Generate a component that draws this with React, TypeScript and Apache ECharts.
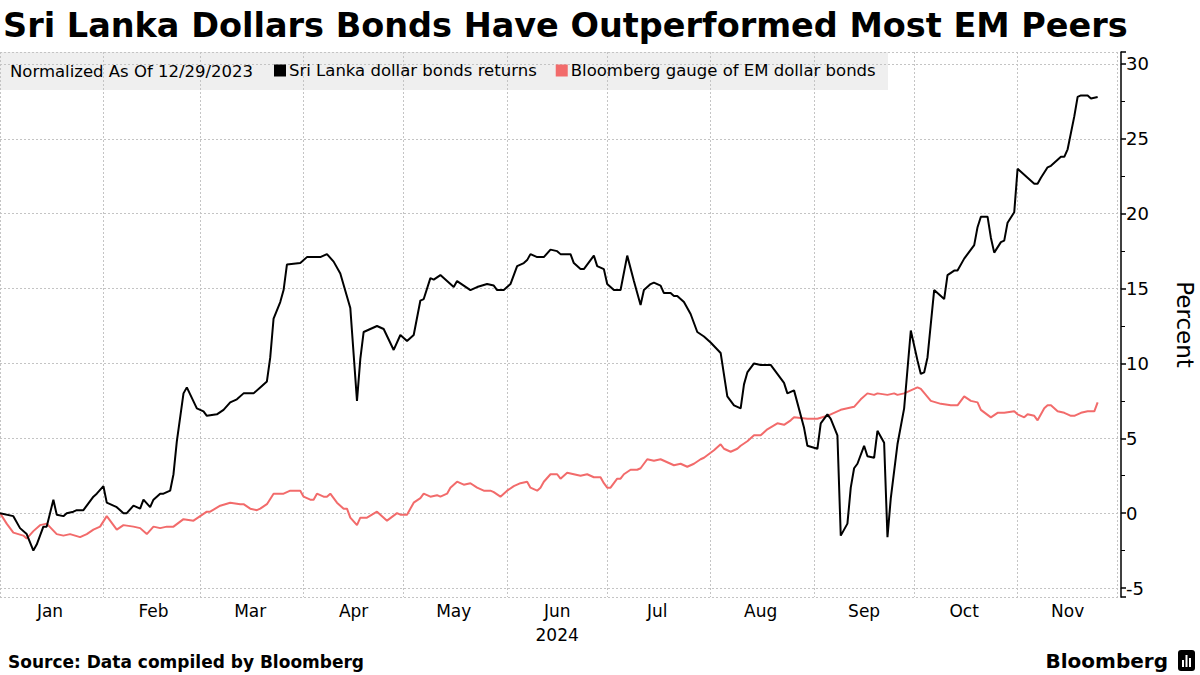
import React, { useEffect, useRef } from "react";
import * as echarts from "echarts";

const TITLE = "Sri Lanka Dollars Bonds Have Outperformed Most EM Peers";
const NOTE = "Normalized As Of 12/29/2023";
const SOURCE = "Source: Data compiled by Bloomberg";
const BRAND = "Bloomberg";
const Y_NAME = "Percent";
const YEAR = "2024";
const SERIES_NAMES = ["Sri Lanka dollar bonds returns", "Bloomberg gauge of EM dollar bonds"];
const SERIES_COLORS = ["#000000", "#f26b6b"];
const MONTHS = ["Jan", "Feb", "Mar", "Apr", "May", "Jun", "Jul", "Aug", "Sep", "Oct", "Nov", "Dec"];

// Sri Lanka dollar bonds returns, % (date MM-DD in 2024, value)
const sriLanka: [string, number][] = [
  ["01-01", 0], ["01-05", -0.2], ["01-07", -1.0], ["01-09", -1.4], ["01-11", -2.5], ["01-12", -2.1],
  ["01-14", -0.9], ["01-15", -0.9], ["01-17", 0.9], ["01-18", -0.1], ["01-20", -0.2], ["01-21", 0.0],
  ["01-23", 0.1], ["01-24", 0.2], ["01-26", 0.2], ["01-29", 1.1], ["01-30", 1.3], ["02-01", 1.8],
  ["02-02", 0.7], ["02-05", 0.4], ["02-07", 0.0], ["02-08", 0.0], ["02-10", 0.5], ["02-12", 0.3],
  ["02-13", 0.9], ["02-15", 0.4], ["02-16", 0.9], ["02-18", 1.3], ["02-19", 1.3], ["02-21", 1.5],
  ["02-22", 2.6], ["02-23", 4.8], ["02-25", 8.0], ["02-26", 8.4], ["02-29", 7.0], ["03-02", 6.8],
  ["03-03", 6.5], ["03-06", 6.6], ["03-08", 6.9], ["03-10", 7.4], ["03-12", 7.6], ["03-14", 8.0],
  ["03-17", 8.0], ["03-19", 8.4], ["03-21", 8.8], ["03-22", 10.4], ["03-23", 13.0], ["03-25", 14.1],
  ["03-26", 14.9], ["03-27", 16.6], ["03-31", 16.7], ["04-02", 17.1], ["04-06", 17.1], ["04-08", 17.3],
  ["04-10", 16.8], ["04-12", 16.0], ["04-15", 13.7], ["04-17", 7.5], ["04-18", 10.3], ["04-19", 12.1],
  ["04-21", 12.3], ["04-23", 12.5], ["04-25", 12.3], ["04-28", 10.9], ["04-30", 11.9], ["05-02", 11.5],
  ["05-04", 11.9], ["05-06", 14.2], ["05-07", 14.3], ["05-09", 15.7], ["05-10", 15.6], ["05-12", 15.9],
  ["05-15", 15.3], ["05-16", 15.1], ["05-17", 15.5], ["05-21", 14.9], ["05-23", 15.1], ["05-26", 15.3],
  ["05-28", 15.2], ["05-29", 14.9], ["05-31", 14.9], ["06-02", 15.3], ["06-04", 16.5], ["06-06", 16.7],
  ["06-07", 16.9], ["06-08", 17.3], ["06-10", 17.1], ["06-12", 17.1], ["06-14", 17.6], ["06-16", 17.5],
  ["06-17", 17.3], ["06-20", 17.3], ["06-21", 16.7], ["06-23", 16.3], ["06-24", 16.3], ["06-26", 16.9],
  ["06-27", 17.2], ["06-28", 16.5], ["06-30", 16.3], ["07-01", 15.3], ["07-03", 14.9], ["07-05", 14.9],
  ["07-07", 17.2], ["07-09", 15.5], ["07-11", 13.9], ["07-12", 14.9], ["07-14", 15.3], ["07-15", 15.4],
  ["07-17", 15.2], ["07-18", 14.7], ["07-20", 14.7], ["07-21", 14.5], ["07-22", 14.5], ["07-24", 14.1],
  ["07-26", 13.3], ["07-28", 12.1], ["07-30", 11.8], ["08-01", 11.4], ["08-04", 10.7], ["08-06", 7.8],
  ["08-08", 7.2], ["08-10", 7.0], ["08-11", 8.6], ["08-12", 9.4], ["08-14", 10.0], ["08-16", 9.9],
  ["08-19", 9.9], ["08-20", 9.6], ["08-23", 8.7], ["08-24", 8.0], ["08-26", 8.2], ["08-29", 5.7],
  ["08-30", 4.5], ["09-02", 4.3], ["09-03", 6.0], ["09-05", 6.6], ["09-06", 6.3], ["09-08", 5.2],
  ["09-09", -1.5], ["09-11", -0.7], ["09-12", 1.7], ["09-13", 3.0], ["09-14", 3.3], ["09-16", 4.5],
  ["09-17", 3.8], ["09-19", 3.7], ["09-20", 5.5], ["09-22", 4.7], ["09-23", -1.6], ["09-24", 1.0],
  ["09-26", 4.6], ["09-28", 7.0], ["09-30", 12.2], ["10-02", 10.2], ["10-03", 9.3], ["10-04", 9.4],
  ["10-05", 10.4], ["10-07", 14.9], ["10-10", 14.3], ["10-11", 15.9], ["10-13", 16.2], ["10-14", 16.2],
  ["10-16", 17.0], ["10-17", 17.3], ["10-19", 17.9], ["10-20", 19.1], ["10-21", 19.8], ["10-23", 19.8],
  ["10-24", 18.4], ["10-25", 17.4], ["10-27", 18.1], ["10-28", 18.2], ["10-29", 19.4], ["10-31", 20.1],
  ["11-01", 23.0], ["11-03", 22.6], ["11-04", 22.4], ["11-06", 22.0], ["11-07", 22.0], ["11-08", 22.4],
  ["11-10", 23.1], ["11-11", 23.2], ["11-13", 23.6], ["11-14", 23.8], ["11-15", 23.8], ["11-16", 24.3],
  ["11-18", 26.5], ["11-19", 27.8], ["11-20", 27.9], ["11-22", 27.9], ["11-23", 27.7], ["11-25", 27.8],
];

// Bloomberg gauge of EM dollar bonds, %
const emGauge: [string, number][] = [
  ["01-01", 0.0], ["01-03", -0.7], ["01-05", -1.3], ["01-08", -1.5], ["01-09", -1.7], ["01-11", -1.2],
  ["01-13", -0.8], ["01-15", -0.7], ["01-18", -1.4], ["01-20", -1.5], ["01-22", -1.4], ["01-25", -1.6],
  ["01-27", -1.4], ["01-29", -1.1], ["01-31", -0.9], ["02-02", -0.2], ["02-05", -1.1], ["02-07", -0.8],
  ["02-10", -0.9], ["02-12", -1.0], ["02-14", -1.4], ["02-16", -0.9], ["02-18", -1.0], ["02-20", -0.9],
  ["02-22", -0.9], ["02-25", -0.4], ["02-28", -0.5], ["03-01", -0.2], ["03-03", 0.1], ["03-04", 0.1],
  ["03-07", 0.5], ["03-10", 0.7], ["03-13", 0.6], ["03-14", 0.6], ["03-16", 0.3], ["03-18", 0.2],
  ["03-19", 0.3], ["03-21", 0.6], ["03-23", 1.3], ["03-25", 1.3], ["03-26", 1.3], ["03-28", 1.5],
  ["03-31", 1.5], ["04-01", 1.1], ["04-03", 0.9], ["04-04", 0.9], ["04-05", 1.3], ["04-07", 1.1],
  ["04-08", 1.1], ["04-09", 1.3], ["04-11", 0.7], ["04-13", 0.3], ["04-14", 0.3], ["04-15", -0.3],
  ["04-17", -0.8], ["04-18", -0.3], ["04-20", -0.3], ["04-23", 0.1], ["04-26", -0.5], ["04-29", 0.0],
  ["04-30", -0.1], ["05-02", -0.1], ["05-04", 0.7], ["05-06", 1.0], ["05-07", 1.3], ["05-09", 1.1],
  ["05-11", 1.2], ["05-12", 1.1], ["05-14", 1.3], ["05-15", 1.7], ["05-17", 2.1], ["05-19", 1.9],
  ["05-21", 2.0], ["05-23", 1.7], ["05-25", 1.5], ["05-27", 1.5], ["05-28", 1.4], ["05-30", 1.1],
  ["05-31", 1.3], ["06-01", 1.5], ["06-03", 1.8], ["06-05", 2.0], ["06-07", 2.1], ["06-08", 1.7],
  ["06-10", 1.5], ["06-11", 1.7], ["06-12", 2.1], ["06-14", 2.6], ["06-16", 2.6], ["06-17", 2.3],
  ["06-19", 2.7], ["06-21", 2.6], ["06-23", 2.5], ["06-25", 2.6], ["06-27", 2.4], ["06-29", 2.4],
  ["06-30", 2.0], ["07-01", 1.7], ["07-02", 1.7], ["07-04", 2.3], ["07-05", 2.3], ["07-06", 2.6],
  ["07-08", 2.9], ["07-10", 2.9], ["07-11", 3.0], ["07-13", 3.6], ["07-15", 3.5], ["07-17", 3.6],
  ["07-19", 3.4], ["07-21", 3.2], ["07-23", 3.3], ["07-25", 3.1], ["07-27", 3.3], ["07-29", 3.6],
  ["07-30", 3.7], ["08-02", 4.2], ["08-04", 4.6], ["08-05", 4.3], ["08-07", 4.1], ["08-09", 4.3],
  ["08-10", 4.5], ["08-12", 4.8], ["08-14", 5.2], ["08-16", 5.2], ["08-18", 5.6], ["08-21", 6.0],
  ["08-23", 5.9], ["08-25", 6.2], ["08-26", 6.4], ["08-30", 6.3], ["09-02", 6.3], ["09-05", 6.5],
  ["09-07", 6.7], ["09-09", 6.9], ["09-11", 7.0], ["09-13", 7.1], ["09-15", 7.6], ["09-17", 8.0],
  ["09-19", 7.9], ["09-20", 8.0], ["09-23", 7.9], ["09-25", 8.0], ["09-26", 7.9], ["09-28", 8.0],
  ["09-30", 8.2], ["10-02", 8.4], ["10-03", 8.3], ["10-06", 7.5], ["10-09", 7.3], ["10-12", 7.2],
  ["10-14", 7.2], ["10-16", 7.8], ["10-18", 7.5], ["10-20", 7.4], ["10-21", 6.9], ["10-24", 6.4],
  ["10-26", 6.7], ["10-28", 6.7], ["10-31", 6.8], ["11-01", 6.6], ["11-03", 6.4], ["11-04", 6.6],
  ["11-06", 6.5], ["11-07", 6.2], ["11-09", 7.0], ["11-10", 7.2], ["11-11", 7.2], ["11-13", 6.8],
  ["11-15", 6.7], ["11-17", 6.5], ["11-18", 6.5], ["11-20", 6.7], ["11-22", 6.8], ["11-24", 6.8],
  ["11-25", 7.4],
];

const Y_MIN = -5.6;
const Y_MAX = 30.8;

function buildDays(): string[] {
  const out: string[] = [];
  const d = new Date(Date.UTC(2024, 0, 1));
  const end = Date.UTC(2024, 11, 2);
  while (d.getTime() <= end) {
    const m = String(d.getUTCMonth() + 1).padStart(2, "0");
    const day = String(d.getUTCDate()).padStart(2, "0");
    out.push(`${m}-${day}`);
    d.setUTCDate(d.getUTCDate() + 1);
  }
  return out;
}

const FONT = "DejaVu Sans";

export default function App() {
  const ref = useRef<HTMLDivElement>(null);
  useEffect(() => {
    if (!ref.current) return;
    const chart = echarts.init(ref.current, undefined, { renderer: "svg" });
    const days = buildDays();
    const option: any = {
      animation: false,
      backgroundColor: "#ffffff",
      textStyle: { fontFamily: FONT },
      grid: { left: 0, right: 79, top: 52, bottom: 78, containLabel: false, outerBoundsMode: "none" },
      legend: {
        data: SERIES_NAMES.map((n) => ({ name: n })),
        left: 274,
        top: 62,
        padding: 0,
        itemGap: 19,
        itemWidth: 12,
        itemHeight: 12,
        icon: "rect",
        textStyle: { fontSize: 16.5, color: "#000", fontFamily: FONT, padding: [0, 0, 0, -2] },
        z: 5,
      },
      xAxis: {
        type: "category",
        data: days,
        boundaryGap: false,
        axisLine: { show: false },
        axisTick: { show: false },
        axisLabel: {
          interval: (_i: number, v: string) => v.endsWith("-16"),
          formatter: (v: string) => {
            const m = parseInt(v.slice(0, 2), 10) - 1;
            return m === 5 ? `${MONTHS[m]}\n${YEAR}` : MONTHS[m];
          },
          color: "#000",
          fontSize: 17,
          lineHeight: 24,
          margin: 2,
          fontFamily: FONT,
        },
        splitLine: {
          show: true,
          interval: (_i: number, v: string) => v.endsWith("-01"),
          lineStyle: { color: "#c4c4c4", type: [2, 2], width: 1 },
        },
      },
      yAxis: {
        type: "value",
        position: "right",
        min: Y_MIN,
        max: Y_MAX,
        splitNumber: 7,
        name: Y_NAME,
        nameLocation: "middle",
        nameRotate: -90,
        nameGap: 52,
        nameTextStyle: { fontSize: 23, color: "#000", fontFamily: FONT },
        axisLine: { show: true, lineStyle: { color: "#000", width: 1.5 } },
        axisTick: { show: true, length: 5, lineStyle: { color: "#000", width: 1.5 } },
        minorTick: { show: true, splitNumber: 2, length: 4, lineStyle: { color: "#000", width: 1 } },
        axisLabel: {
          showMinLabel: false,
          showMaxLabel: false,
          color: "#000",
          fontSize: 18,
          margin: 5,
          fontFamily: FONT,
        },
        splitLine: { show: true, lineStyle: { color: "#c4c4c4", type: [2, 2], width: 1 } },
      },
      graphic: [
        {
          type: "rect",
          z: -10,
          shape: { x: 0, y: 52, width: 888, height: 38 },
          style: { fill: "#efefef" },
          silent: true,
        },
        {
          type: "text",
          x: 10,
          y: 71,
          z: 5,
          style: { text: NOTE, fill: "#000", fontSize: 16.5, fontFamily: FONT, textVerticalAlign: "middle" },
        },
        {
          type: "text",
          x: 3,
          y: 25,
          style: {
            text: TITLE,
            fill: "#000",
            fontSize: 33.5,
            fontWeight: "bold",
            fontFamily: FONT,
            textVerticalAlign: "middle",
          },
        },
        {
          type: "text",
          x: 8,
          y: 662,
          style: {
            text: SOURCE,
            fill: "#000",
            fontSize: 17,
            fontWeight: "bold",
            fontFamily: FONT,
            textVerticalAlign: "middle",
          },
        },
        {
          type: "text",
          x: 1168,
          y: 661,
          style: {
            text: BRAND,
            fill: "#000",
            fontSize: 20,
            fontWeight: "bold",
            fontFamily: FONT,
            textAlign: "right",
            textVerticalAlign: "middle",
          },
        },
        {
          type: "rect",
          shape: { x: 1178, y: 650, width: 17, height: 21, r: 3 },
          style: { fill: "#000" },
        },
        {
          type: "rect",
          shape: { x: 1182, y: 660, width: 2, height: 7 },
          style: { fill: "#fff" },
        },
        {
          type: "rect",
          shape: { x: 1185.5, y: 655, width: 2, height: 12 },
          style: { fill: "#fff" },
        },
        {
          type: "rect",
          shape: { x: 1189, y: 658, width: 2, height: 9 },
          style: { fill: "#fff" },
        },
      ],
      series: [
        {
          name: SERIES_NAMES[1],
          type: "line",
          data: emGauge,
          showSymbol: false,
          color: SERIES_COLORS[1],
          lineStyle: { color: SERIES_COLORS[1], width: 2 },
          z: 2,
        },
        {
          name: SERIES_NAMES[0],
          type: "line",
          data: sriLanka,
          showSymbol: false,
          color: SERIES_COLORS[0],
          lineStyle: { color: SERIES_COLORS[0], width: 2 },
          z: 3,
        },
      ],
    };
    chart.setOption(option);
    return () => chart.dispose();
  }, []);
  return (
    <div
      ref={ref}
      style={{ position: "fixed", left: 0, top: 0, width: 1200, height: 675, background: "#fff" }}
    />
  );
}
